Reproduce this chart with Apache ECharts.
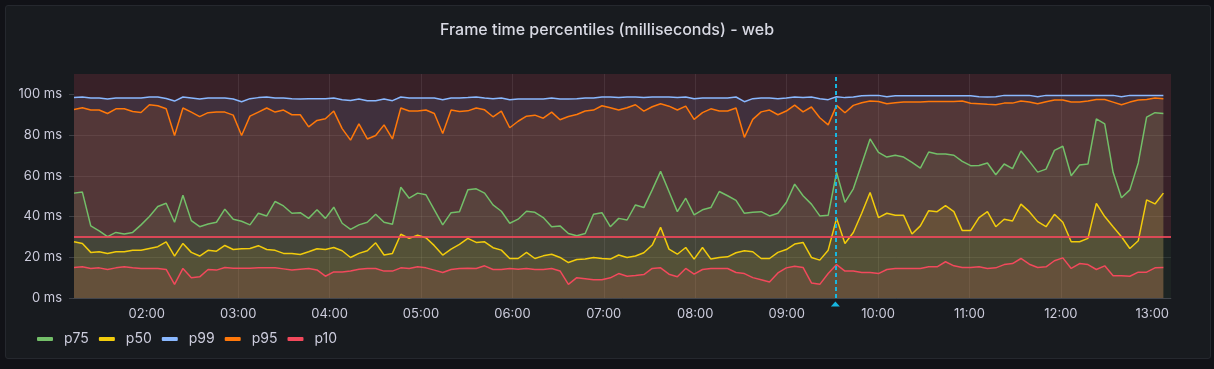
<!DOCTYPE html>
<html><head><meta charset="utf-8">
<script src="https://cdn.jsdelivr.net/npm/echarts@6/dist/echarts.min.js"></script>
<style>
html,body{margin:0;padding:0;background:#111217;width:1214px;height:369px;overflow:hidden}
#panel{position:absolute;left:5px;top:5px;width:1204px;height:352px;background:#181b1f;border:1px solid #25282e;border-radius:3px}
#chart{position:absolute;left:0;top:0;width:1214px;height:369px}
</style></head><body>
<div id="panel"></div><div id="chart"></div>
<script>
const titleText = 'Frame time percentiles (milliseconds) - web';
const seriesNames = ['p75', 'p50', 'p99', 'p95', 'p10'];
const seriesColors = ['#73BF69', '#F2CC0C', '#8AB8FF', '#FF780A', '#F2495C'];
const yTicks = [0, 20, 40, 60, 80, 100];
const xTickMinutes = [120, 180, 240, 300, 360, 420, 480, 540, 600, 660, 720, 780];
const thresholdValue = 30;
const annotationMinute = 572;
const rangeStartMinute = 72.27;
const rangeEndMinute = 792.27;
const stepMinutes = 5.5;

const p75 = [51.5,52,35.4,33,30.1,32.2,31.4,32.2,35.9,40,44.9,46.5,37.2,50.5,38,35,36.3,37.2,43.6,38.7,37.7,35.9,
41.6,40.3,47.4,45.2,41.6,41.9,39.1,43.3,39.1,44.6,36.7,33.7,35.9,37.2,41.1,37.2,36.2,54.4,49,51.5,50.7,43.3,
35.9,41.9,42.4,53.1,53.6,51.5,45.7,42.6,36.7,38.7,42.6,42.1,39.5,35,35.4,31.7,30.6,31.7,41.1,41.9,35,
39.1,38.3,45.7,44.4,53.1,62.2,52.3,42.4,49,40.8,43.3,44.4,52.3,50.2,47.9,41.6,42.1,42.4,40.3,41.6,46.9,55.9,
50.2,46.1,40.3,40.6,61.7,47,53.6,65.8,78.1,71.5,69.2,70.1,69.2,66.6,63.8,71.7,70.7,70.7,70.1,67.1,65,
65.1,66.3,60.5,65.8,63.5,72.2,67.1,61.8,63.3,72.5,74.5,60,65.3,65.8,88,85.5,61.7,49.2,53.1,66.3,88.8,91,90.6];

const p50 = [27.6,26.8,22.4,22.7,21.9,22.7,22.7,23.5,23.4,24.3,25.2,27.6,20.6,26.8,22.4,20.6,23.4,23,25.8,23.8,24.2,24.3,
25.7,23.8,23.4,21.9,21.9,21.4,22.7,24.2,23.8,24.8,23.2,19.9,21.9,23.2,27.1,21.1,21.9,31.3,29.3,30.8,29.6,25.7,
21.1,24,26.3,29.3,27.3,27.6,24.7,23.5,19.4,19.4,22.4,19.4,20.7,21.5,19.9,17.4,18.9,19.1,19.9,19.4,19.1,
21.1,19.9,20.6,22.2,26,34.7,24,21.5,24.8,19.1,24.8,19.1,19.9,20.2,22.2,23.2,22.7,19.4,19.4,22.4,23.8,26.5,
27.3,19.9,18.6,23.5,39.1,26.8,32.2,41.6,51.8,39.5,41.6,40.6,40.6,31.4,35.4,42.9,42.4,45.4,42.4,33.1,33.1,
39.5,42.4,35,38.7,37.8,46.1,42.4,37.5,35,41.1,37.2,27.6,27.6,29.3,46.5,40,35,30.1,24.3,28.1,48.2,46.2,51.5];

const p99 = [98.4,98.7,98.2,98.2,97.7,98.2,98.2,98.2,98.2,98.7,98.7,98,96.7,98.7,98.2,97.7,98.2,98.2,98.2,97.7,96.4,97.9,
98.4,98.7,98.2,98.2,97.9,97.7,97.9,97.9,97.9,98.2,97.4,97,97.7,96.9,96.9,97.7,96.9,98.7,98.2,98.2,98.2,98.2,
97.4,98.2,98.2,98.4,98.7,98.2,97.9,98.2,97.4,97.7,97.7,97.7,97.7,98.2,97.7,97.7,97.9,98.2,98.2,98.7,98.7,
98.4,98.7,98.7,98.4,98.7,98.7,98.7,98.4,98.7,97.9,98.2,98.2,98.2,98.2,98.7,96.4,97.9,98.2,98.2,97.9,98.2,98.7,
98.4,98.7,97.9,97.4,98.8,98.4,98.7,99.3,99.5,99.5,98.8,99.3,99.3,99.3,99.3,99.3,99.3,99.3,99.3,99.3,99.3,
98.8,98.7,98.8,99.5,99.5,99.5,99.5,98.8,99.5,99.5,99.5,99.5,99.5,99.5,99.5,99.5,99.5,98.8,99.5,99.5,99.5,99.5,99.5];

const p95 = [92.6,93.4,92.3,92.3,90.6,92.9,92.9,91.6,91.1,94.9,94.4,92.9,79.8,93.3,91.3,89.1,91,91.3,91.3,89.8,79.8,89.3,
91.3,93.3,91.3,92.3,90,90,84,87.2,88,91.8,83.2,77.5,85.5,78.1,79.8,85,78.1,93.3,91.8,91.8,92.3,90.6,
80.8,92.3,91.6,91.9,93.3,92.4,89,91.8,83.6,86.8,89.3,89.8,88.3,91.3,87.5,89.1,90.1,91.8,92.3,94.4,93.4,
92.3,93.4,94.9,91.8,93.9,95.4,94.2,92.3,94.2,87.7,91,92.9,91.8,91.8,93.3,78.9,87.7,91.4,92.3,90,91.8,94.7,
91.4,93.8,88.5,85,94.6,91,94.6,95.9,96.7,96.5,95.4,95.9,96.2,96.2,96.2,96.5,96.5,96.5,96.5,96.7,95.6,
95.4,95.1,94.9,95.7,95.7,96.7,96.2,95.4,96.4,97.2,97.2,96.2,96.2,96.7,97.5,97.5,96.2,94.9,96.2,97.2,97.5,98.2,97.9];

const p10 = [15,15.3,14.5,14.8,14,14.8,15.3,14.8,14.5,14.5,14.5,14,6.7,14.5,10,10.4,14,13.7,15,14.6,14.6,14.6,
14.8,14.8,14.8,14.3,13.7,14.1,14.5,13.8,10.7,12.8,12.8,13.3,14.1,14.5,14.5,13.2,13.2,14.8,14.5,15.3,14.8,13.7,
12.5,14,14.5,14.6,14.5,15.8,14,14,14.5,14.1,14.5,14,14,14.5,13.3,6.7,10,9.5,9,9,9.9,
12,10.7,11,11.5,14.5,14.8,11.7,10.4,14.5,11.7,14,14.5,14.5,14.5,12.5,12,10,9,7.9,12.3,14.8,15.6,
15,7.4,6.7,12,16.4,13.2,13.3,12.5,12.5,12,14,14.5,14.5,14.5,14.5,15.3,15.3,17.8,15.8,15,15,
15.3,14.5,14.8,16.4,16.9,19.4,16.6,15,15.3,18.3,19.7,14.5,16.9,16.4,14,15.8,10.9,10.9,10.7,12.7,12.7,14.8,15];

const seriesValues = [p75, p50, p99, p95, p10];

const minutes = p75.map((_, i) => rangeStartMinute + i * stepMinutes);
function pad(n) { return (n < 10 ? '0' : '') + n; }
function fmtMinutes(v) { const m = Math.round(v); return pad(Math.floor(m / 60)) + ':' + pad(m % 60); }

const FONT = 'Inter, "Noto Sans", sans-serif';
const TXT = '#ccccdc';

const series = seriesNames.map((name, k) => ({
  name: name,
  type: 'line',
  data: minutes.map((t, i) => [t, seriesValues[k][i]]),
  showSymbol: false,
  symbol: 'none',
  lineStyle: { width: 1.5, color: seriesColors[k] },
  itemStyle: { color: seriesColors[k] },
  areaStyle: { color: seriesColors[k], opacity: 0.1 },
  clip: false,
  silent: true
}));

series[0].markArea = {
  silent: true,
  data: [
    [{ yAxis: thresholdValue, itemStyle: { color: 'rgba(242,73,92,0.15)' } }, { yAxis: 110 }],
    [{ yAxis: 0, itemStyle: { color: 'rgba(115,191,105,0.06)' } }, { yAxis: thresholdValue }]
  ]
};
series[0].markLine = {
  silent: true,
  symbol: 'none',
  label: { show: false },
  lineStyle: { color: '#F2495C', width: 2, type: 'solid', opacity: 0.85 },
  data: [{ yAxis: thresholdValue }]
};
series[4].markLine = {
  silent: true,
  symbol: 'none',
  label: { show: false },
  lineStyle: { color: '#17b6e0', width: 2, type: [4, 3] },
  data: [{ xAxis: annotationMinute }]
};
series[4].markPoint = {
  silent: true,
  symbol: 'triangle',
  symbolSize: [9, 5],
  symbolOffset: [0, 6],
  label: { show: false },
  itemStyle: { color: '#17b6e0' },
  data: [{ coord: [annotationMinute, 0] }]
};

const chart = echarts.init(document.getElementById('chart'), null, { renderer: 'canvas' });
chart.setOption({
  animation: false,
  backgroundColor: 'transparent',
  textStyle: { fontFamily: FONT },
  title: {
    text: titleText,
    left: 'center',
    top: 17,
    textStyle: { color: '#d8d9e3', fontSize: 16, fontWeight: 500, fontFamily: FONT }
  },
  legend: {
    left: 32,
    top: 327,
    icon: 'roundRect',
    itemWidth: 16,
    itemHeight: 4,
    itemGap: 10,
    data: seriesNames,
    textStyle: { color: TXT, fontSize: 14, fontFamily: FONT, padding: [0, 0, 0, 6] }
  },
  grid: { left: 74, right: 43, top: 74, bottom: 71, containLabel: false },
  xAxis: {
    type: 'value',
    min: rangeStartMinute,
    max: rangeEndMinute,
    axisLine: { show: true, onZero: false, lineStyle: { color: 'rgba(204,204,220,0.15)' } },
    axisTick: { show: false, customValues: xTickMinutes },
    axisLabel: {
      customValues: xTickMinutes,
      color: TXT, fontSize: 13, fontFamily: FONT, margin: 10,
      formatter: v => fmtMinutes(v)
    },
    splitLine: { show: true, showMinLine: false, showMaxLine: false, lineStyle: { color: 'rgba(240,250,255,0.09)', width: 1 } }
  },
  yAxis: {
    type: 'value',
    min: 0,
    max: 110,
    interval: 20,
    axisLine: { show: false },
    axisTick: { show: true, length: 5, customValues: yTicks, lineStyle: { color: 'rgba(204,204,220,0.2)' } },
    axisLabel: {
      customValues: yTicks,
      color: TXT, fontSize: 13, fontFamily: FONT, margin: 12,
      formatter: v => v + ' ms'
    },
    splitLine: { show: true, showMaxLine: false, lineStyle: { color: 'rgba(240,250,255,0.09)', width: 1 } }
  },
  series: series
});
</script>
</body></html>
